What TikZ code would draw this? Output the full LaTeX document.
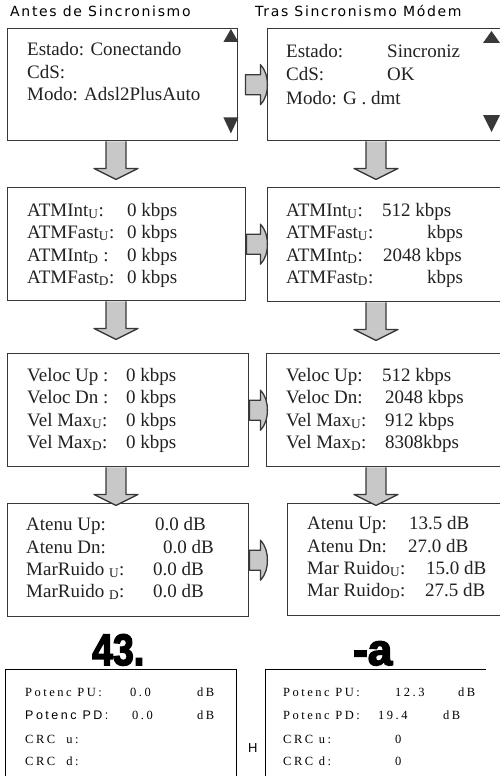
\documentclass[tikz,border=0pt]{standalone}
\usepackage{fontspec}
\usepackage{graphicx}
\setmainfont{Liberation Serif}
\newfontfamily\hdrfont[LetterSpace=12]{DejaVu Sans}
\newfontfamily\bigfont{Liberation Sans}
\newfontfamily\smserif[LetterSpace=20]{Liberation Serif}
\newfontfamily\smsans[LetterSpace=20]{Liberation Sans}
\definecolor{ink}{HTML}{222222}
\definecolor{edge}{HTML}{383838}
\definecolor{arrfill}{HTML}{C8C8C8}
\newcommand\sbx[1]{\textsubscript{#1}}
\newcommand\heavy[1]{\special{pdf:literal direct 2 Tr 1.6 w}#1\special{pdf:literal direct 0 Tr}}
\tikzset{
  box/.style={draw=edge, line width=1.4pt, fill=white, inner sep=0pt, anchor=north west},
  openbox/.style={inner sep=0pt, anchor=north west},
  openline/.style={draw=black, line width=1pt},
  blockarrow/.style={draw=edge, line width=1.3pt, fill=arrfill, line join=round},
  tri/.style={fill=edge, draw=none},
  lbl/.style={anchor=base west, inner sep=0pt, text=ink, font=\fontsize{19}{22}\selectfont},
  hdr/.style={anchor=base west, inner sep=0pt, text=black, font=\hdrfont\fontsize{14}{16}\selectfont},
  big/.style={anchor=base west, inner sep=0pt, text=black, font=\bigfont\bfseries\fontsize{44}{48}\selectfont},
  sml/.style={anchor=base west, inner sep=0pt, text=black, font=\smserif\fontsize{12.5}{15}\selectfont},
  smls/.style={anchor=base west, inner sep=0pt, text=black, font=\smsans\fontsize{12.5}{15}\selectfont},
}
\newcommand\boxtxt[4]{\node[lbl] (#1) at (#2,#3) {#4};}
\newcommand\smtxt[4]{\node[sml] (#1) at (#2,#3) {#4};}
\newcommand\downarr[1]{\begin{scope}[shift={(#1)}]
  \draw[blockarrow] (-10,0) -- (-10,27) -- (-22,27) -- (0,38) -- (22,27) -- (10,27) -- (10,0);
\end{scope}}
\newcommand\rightarr[4]{\begin{scope}[shift={(#1)}]
  \draw[blockarrow] (#2,-10) -- (#3,-10) -- (#3,-20)
    .. controls ({#3+0.8*(#4-#3)},-14) and (#4,-7) .. (#4,0)
    .. controls (#4,7) and ({#3+0.8*(#4-#3)},14) .. (#3,20)
    -- (#3,10) -- (#2,10) -- cycle;
\end{scope}}
\begin{document}
\begin{tikzpicture}[x=1pt,y=-1pt]
\useasboundingbox (0,0) rectangle (500,776);
\clip (0,0) rectangle (500,776);
\fill[white] (0,0) rectangle (500,776);

% headers
\node[hdr] (h1) at (10,17) {Antes de Sincronismo};
\node[hdr] (h2) at (255,17) {Tras Sincronismo Módem};

% boxes
\node[box, minimum width=230, minimum height=112] (b1) at (7,28) {};
\node[box, minimum width=250, minimum height=112] (b2) at (267,28) {};
\node[box, minimum width=238, minimum height=113] (b3) at (7,187) {};
\node[box, minimum width=250, minimum height=114] (b4) at (267,187) {};
\node[box, minimum width=241, minimum height=113] (b5) at (7,353) {};
\node[box, minimum width=250, minimum height=113] (b6) at (266,353) {};
\node[box, minimum width=241, minimum height=113] (b7) at (7,503) {};
\node[box, minimum width=230, minimum height=112] (b8) at (287,503) {};
\node[openbox, minimum width=231, minimum height=120] (b9) at (5,669) {};
\node[openbox, minimum width=221, minimum height=120] (b10) at (265,669) {};
\draw[openline] (b9.south west) -- (b9.north west) -- (b9.north east) -- (b9.south east);
\draw[openline] (b10.south west) -- (b10.north west) -- (b10.north east);

% scroll triangles
\begin{scope}[shift={(b1.north east)}]
  \fill[tri] (-15,14) -- (0,14) -- (-7.5,1) -- cycle;
\end{scope}
\begin{scope}[shift={(b1.south east)}]
  \fill[tri] (-15,-24) -- (0,-24) -- (-7.5,-8) -- cycle;
\end{scope}
\begin{scope}[shift={(b2.north west)}]
  \fill[tri] (216,15) -- (233,15) -- (224.5,3) -- cycle;
  \fill[tri] (216,87) -- (233,87) -- (224.5,104) -- cycle;
\end{scope}

% down arrows
\downarr{b1.south -| 116,0}
\downarr{b3.south -| 116,0}
\downarr{b5.south -| 116,0}
\downarr{b2.south -| 376,0}
\downarr{b4.south -| 376,0}
\downarr{b6.south -| 376,0}

% right arrows
\rightarr{b1.east}{7}{22}{29}
\rightarr{b3.east}{0}{14}{21}
\rightarr{b5.east}{0}{11}{18}
\rightarr{b7.east}{0}{11}{18}

% box 1
\boxtxt{a1}{27}{56}{Estado: Conectando}
\boxtxt{a2}{27}{78}{CdS:}
\boxtxt{a3}{27}{100}{Modo: Adsl2PlusAuto}
% box 2
\boxtxt{c1}{286}{58}{Estado:}
\boxtxt{c1v}{387}{58}{Sincroniz}
\boxtxt{c2}{286}{81}{CdS:}
\boxtxt{c2v}{387}{81}{OK}
\boxtxt{c3}{286}{104}{Modo: G . dmt}
% box 3
\boxtxt{d1}{27}{216}{ATMInt\sbx{U}:}
\boxtxt{d2}{27}{238}{ATMFast\sbx{U}:}
\boxtxt{d3}{27}{261}{ATMInt\sbx{D} :}
\boxtxt{d4}{27}{283}{ATMFast\sbx{D}:}
\boxtxt{d1v}{127}{216}{0 kbps}
\boxtxt{d2v}{127}{238}{0 kbps}
\boxtxt{d3v}{127}{261}{0 kbps}
\boxtxt{d4v}{127}{283}{0 kbps}
% box 4
\boxtxt{e1}{286}{216}{ATMInt\sbx{U}:}
\boxtxt{e2}{286}{238}{ATMFast\sbx{U}:}
\boxtxt{e3}{286}{261}{ATMInt\sbx{D}:}
\boxtxt{e4}{286}{283}{ATMFast\sbx{D}:}
\boxtxt{e1v}{382}{216}{512 kbps}
\boxtxt{e2v}{427}{238}{kbps}
\boxtxt{e3v}{383}{261}{2048 kbps}
\boxtxt{e4v}{427}{283}{kbps}
% box 5
\boxtxt{f1}{27}{381}{Veloc Up :}
\boxtxt{f2}{27}{403}{Veloc Dn :}
\boxtxt{f3}{27}{426}{Vel Max\sbx{U}:}
\boxtxt{f4}{27}{448}{Vel Max\sbx{D}:}
\boxtxt{f1v}{126}{381}{0 kbps}
\boxtxt{f2v}{126}{403}{0 kbps}
\boxtxt{f3v}{126}{426}{0 kbps}
\boxtxt{f4v}{126}{448}{0 kbps}
% box 6
\boxtxt{g1}{286}{381}{Veloc Up:}
\boxtxt{g2}{286}{403}{Veloc Dn:}
\boxtxt{g3}{286}{426}{Vel Max\sbx{U}:}
\boxtxt{g4}{286}{448}{Vel Max\sbx{D}:}
\boxtxt{g1v}{382}{381}{512 kbps}
\boxtxt{g2v}{385}{403}{2048 kbps}
\boxtxt{g3v}{385}{426}{912 kbps}
\boxtxt{g4v}{385}{448}{8308kbps}
% box 7
\boxtxt{k1}{26}{530}{Atenu Up:}
\boxtxt{k2}{26}{553}{Atenu Dn:}
\boxtxt{k3}{26}{575}{MarRuido \sbx{U}:}
\boxtxt{k4}{26}{597}{MarRuido \sbx{D}:}
\boxtxt{k1v}{155}{530}{0.0 dB}
\boxtxt{k2v}{163}{553}{0.0 dB}
\boxtxt{k3v}{153}{575}{0.0 dB}
\boxtxt{k4v}{153}{597}{0.0 dB}
% box 8
\boxtxt{m1}{307}{529}{Atenu Up:}
\boxtxt{m2}{307}{552}{Atenu Dn:}
\boxtxt{m3}{307}{574}{Mar Ruido\sbx{U}:}
\boxtxt{m4}{307}{596}{Mar Ruido\sbx{D}:}
\boxtxt{m1v}{409}{529}{13.5 dB}
\boxtxt{m2v}{408}{552}{27.0 dB}
\boxtxt{m3v}{426}{574}{15.0 dB}
\boxtxt{m4v}{425}{596}{27.5 dB}

% big labels
\node[big] (n43) at (92,665) {\heavy{\scalebox{0.85}[1]{43.}}};
\node[big] (na) at (353,665) {\heavy{-a}};

% bottom left box
\smtxt{p1}{25}{696}{Potenc PU:}
\smtxt{p1v}{130}{696}{0.0}
\smtxt{p1u}{197}{696}{dB}
\node[smls] (p2) at (25,719) {Potenc PD:};
\smtxt{p2v}{132}{719}{0.0}
\smtxt{p2u}{197}{719}{dB}
\smtxt{p3}{25}{743}{CRC \ u:}
\smtxt{p4}{25}{765}{CRC \ d:}
% bottom right box
\smtxt{q1}{283}{696}{Potenc PU:}
\smtxt{q1v}{395}{696}{12.3}
\smtxt{q1u}{458}{696}{dB}
\smtxt{q2}{283}{719}{Potenc PD:}
\smtxt{q2v}{378}{719}{19.4}
\smtxt{q2u}{443}{719}{dB}
\smtxt{q3}{283}{743}{CRC u:}
\smtxt{q3v}{395}{743}{0}
\smtxt{q4}{283}{765}{CRC d:}
\smtxt{q4v}{395}{765}{0}
\node[smls, font=\bigfont\fontsize{13}{15}\selectfont] (hh) at (248,752) {H};
\end{tikzpicture}
\end{document}
